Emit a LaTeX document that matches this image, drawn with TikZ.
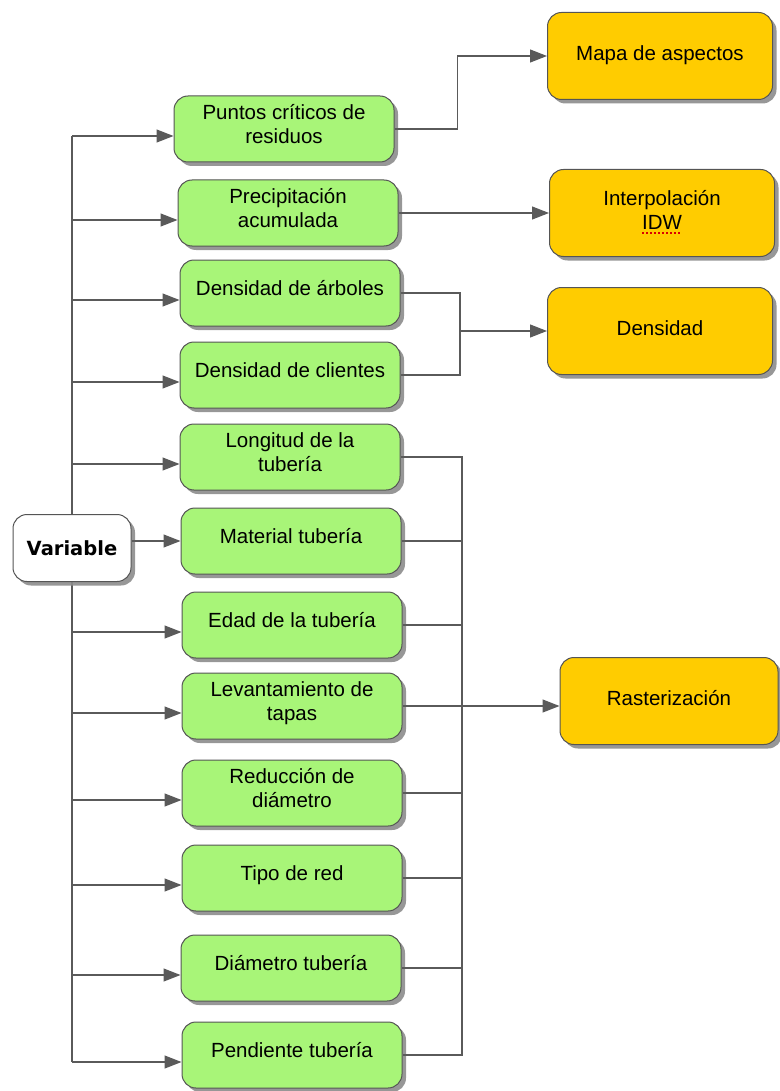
\documentclass[tikz,border=0pt]{standalone}
\usepackage{fontspec}
\setmainfont{Liberation Sans}
\newfontfamily\boldlabel{DejaVu Sans}[BoldFont=DejaVu Sans Bold]
\usetikzlibrary{arrows.meta,shadows}
\definecolor{leaf}{HTML}{A8F578}
\definecolor{amber}{HTML}{FFCC00}
\definecolor{wire}{HTML}{5A5A5A}
\definecolor{edge}{HTML}{555555}
% centred lines; the green boxes set them a little above the middle
\newcommand{\lines}[1]{\begin{tabular}{@{}c@{}}#1\end{tabular}}
\newcommand{\boxtext}[1]{\raisebox{2pt}[\height][\depth]{\lines{#1}}}
\tikzset{
  box/.style={draw=edge, line width=1pt, rounded corners=14pt, inner sep=0pt,
    font=\fontsize{20.5}{24}\selectfont,
    drop shadow={shadow xshift=4pt, shadow yshift=-4pt, fill=black!45, opacity=0.9}},
  varbox/.style={box, fill=white, minimum width=118pt, minimum height=67pt},
  greenbox/.style={box, fill=leaf, minimum width=220pt, minimum height=66pt},
  orangebox/.style={box, fill=amber, minimum width=225pt, minimum height=87pt},
  wireline/.style={draw=wire, line width=1.2pt},
  arr/.style={wireline, -{Triangle[length=17pt,width=13pt]}}
}
\begin{document}
\begin{tikzpicture}[x=1pt,y=-1pt]
\useasboundingbox (0,0) rectangle (779,1091);

% trunk from the variable to each input
\coordinate (t1) at (72,136);
\coordinate (t12) at (72,1062);
\draw[wireline] (t1) -- (t12);

% inputs
\node[greenbox] (b1)  at (284,129)  {\boxtext{Puntos críticos de\\residuos}};
\node[greenbox] (b2)  at (288,213)  {\boxtext{Precipitación\\acumulada}};
\node[greenbox] (b3)  at (290,293)  {\boxtext{Densidad de árboles}};
\node[greenbox] (b4)  at (290,375)  {\boxtext{Densidad de clientes}};
\node[greenbox] (b5)  at (290,457)  {\boxtext{Longitud de la\\tubería}};
\node[greenbox] (b6)  at (291,541)  {\boxtext{Material tubería}};
\node[greenbox] (b7)  at (292,625)  {\boxtext{Edad de la tubería}};
\node[greenbox] (b8)  at (292,706)  {\boxtext{Levantamiento de\\tapas}};
\node[greenbox] (b9)  at (292,793)  {\boxtext{Reducción de\\diámetro}};
\node[greenbox] (b10) at (292,878)  {\boxtext{Tipo de red}};
\node[greenbox] (b11) at (291,968)  {\boxtext{Diámetro tubería}};
\node[greenbox] (b12) at (292,1055) {\boxtext{Pendiente tubería}};

% outputs
\node[orangebox] (M) at (660,56)  {\lines{Mapa de aspectos}};
\node[orangebox] (I) at (662,213) {\lines{Interpolación\\IDW}};
\node[orangebox] (D) at (660,331) {\lines{Densidad}};
\node[orangebox, minimum width=218pt] (R) at (669,701) {\lines{Rasterización}};

% spell-check mark under IDW
\draw[red!85!black, line width=1.3pt, dash pattern=on 2pt off 2pt]
  (642,233) -- (681,233);

% variable box
\node[varbox, font=\boldlabel\bfseries\fontsize{19.5}{23}\selectfont] (V) at (72,548) {Variable};

% arrows from the trunk into each input
\foreach \b in {b1,b2,b3,b4,b5,b7,b8,b9,b10,b11,b12}{
  \draw[arr] ([yshift=-7pt]\b.west -| t1) -- ([yshift=-7pt]\b.west);
}
\draw[arr] (V.east |- b6.west) -- (b6.west);

% inputs to outputs
\draw[arr] (b1.east) -- ++(63,0) |- (M.west);
\draw[arr] (b2.east) -- (I.west);
\coordinate (jd) at (460,331);
\draw[wireline] (b3.east) -| (jd) |- (b4.east);
\draw[arr] (jd) -- (D.west);

\coordinate (jr) at (462,706);
\draw[wireline] (b5.east) -| (jr |- b12.east) -- (b12.east);
\foreach \b in {b6,b7,b9,b10,b11}{
  \draw[wireline] (\b.east) -- (\b.east -| jr);
}
\draw[arr] (b8.east) -- (R.west |- b8.east);
\end{tikzpicture}
\end{document}
